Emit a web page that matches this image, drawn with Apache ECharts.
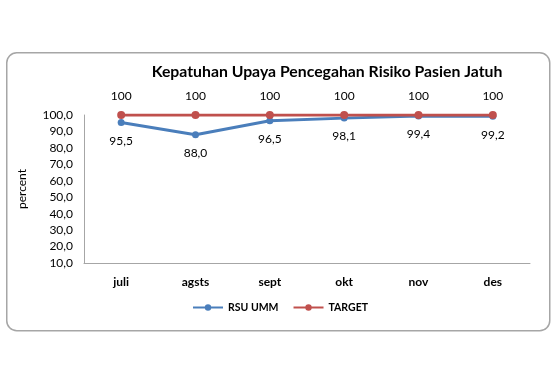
<!DOCTYPE html>
<html><head><meta charset="utf-8">
<script src="https://cdn.jsdelivr.net/npm/echarts@6/dist/echarts.min.js"></script>
<style>html,body{margin:0;padding:0;background:#fff}#c{width:560px;height:370px}</style>
</head><body><div id="c"></div>
<script>
const categories = ['juli','agsts','sept','okt','nov','des'];
const rsuUmm = [95.5, 88.0, 96.5, 98.1, 99.4, 99.2];
const target = [100, 100, 100, 100, 100, 100];
const yTicks = {min: 10, max: 100, interval: 10};

const F = 'Lato, "Open Sans", sans-serif';
const chart = echarts.init(document.getElementById('c'));
chart.setOption({
  animation: false,
  backgroundColor: '#fff',
  graphic: [{
    type: 'rect', left: 6, top: 52, z: -1,
    shape: {width: 543, height: 278, r: 10},
    style: {fill: '#fff', stroke: '#a6a6a6', lineWidth: 1.5}
  }],
  title: {
    text: 'Kepatuhan Upaya Pencegahan Risiko Pasien Jatuh',
    left: 322, top: 59, textAlign: 'center',
    textStyle: {fontFamily: F, fontSize: 15.8, fontWeight: 'bold', color: '#000'}
  },
  legend: {
    bottom: 52, left: 'center', itemWidth: 30, itemHeight: 8, itemGap: 14,
    textStyle: {fontFamily: F, fontSize: 10.5, fontWeight: 'bold', color: '#000'},
    data: ['RSU UMM', 'TARGET']
  },
  grid: {left: 84, right: 30, top: 115, bottom: 107},
  xAxis: {
    type: 'category', data: categories, boundaryGap: true,
    axisLine: {lineStyle: {color: '#a6a6a6', width: 1}},
    axisTick: {show: false},
    axisLabel: {fontFamily: F, fontSize: 12, fontWeight: 'bold', color: '#000', margin: 13}
  },
  yAxis: {
    type: 'value', min: yTicks.min, max: yTicks.max, interval: yTicks.interval,
    name: 'percent', nameLocation: 'middle', nameGap: 56, nameRotate: 90,
    nameTextStyle: {fontFamily: F, fontSize: 12, color: '#000'},
    axisLine: {show: true, lineStyle: {color: '#a6a6a6', width: 1}},
    axisTick: {show: false},
    splitLine: {show: false},
    axisLabel: {fontFamily: F, fontSize: 12, color: '#000', margin: 11,
      formatter: v => v.toFixed(1).replace('.', ',')}
  },
  series: [{
    name: 'RSU UMM', type: 'line', data: rsuUmm,
    symbol: 'circle', symbolSize: 7,
    lineStyle: {width: 3, color: '#4A7EBB'}, itemStyle: {color: '#4A7EBB'},
    label: {show: true, position: 'bottom', distance: 9, fontFamily: F, fontSize: 12, color: '#000',
      formatter: p => p.value.toFixed(1).replace('.', ',')}
  }, {
    name: 'TARGET', type: 'line', data: target,
    symbol: 'circle', symbolSize: 8,
    lineStyle: {width: 3, color: '#C0504D'}, itemStyle: {color: '#C0504D'},
    label: {show: true, position: 'top', distance: 9, fontFamily: F, fontSize: 12, color: '#000',
      formatter: p => String(p.value)}
  }]
});
</script></body></html>
